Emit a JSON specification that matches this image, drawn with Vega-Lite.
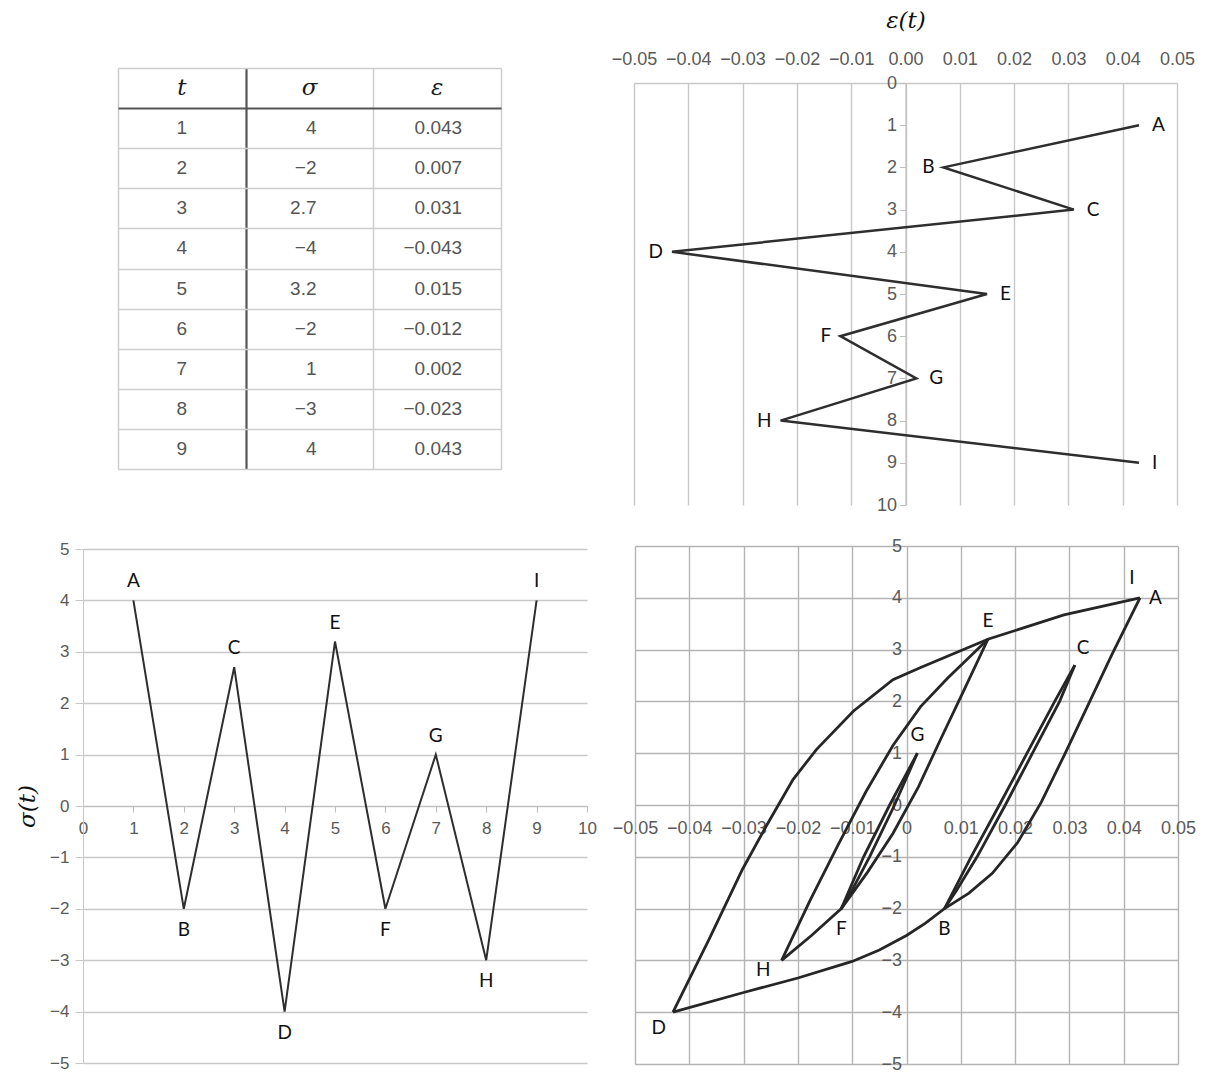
{
  "$schema": "https://vega.github.io/schema/vega-lite/v6.json",
  "background": "white",
  "width": 1206,
  "height": 1073,
  "autosize": {"type": "none"},
  "padding": 0,
  "config": {
    "view": {"stroke": null},
    "axis": {
      "labelFont": "Liberation Sans",
      "labelFontSize": 18,
      "labelColor": "#5a5a5a",
      "titleFont": "DejaVu Serif",
      "titleFontStyle": "italic",
      "titleFontWeight": "normal",
      "titleFontSize": 23,
      "titleColor": "#111111"
    },
    "text": {"font": "Lato", "fontSize": 19, "color": "#111111", "baseline": "middle"}
  },
  "datasets": {
    "pts": [
      {"t": 1, "s": 4, "e": 0.043, "p": "A"},
      {"t": 2, "s": -2, "e": 0.007, "p": "B"},
      {"t": 3, "s": 2.7, "e": 0.031, "p": "C"},
      {"t": 4, "s": -4, "e": -0.043, "p": "D"},
      {"t": 5, "s": 3.2, "e": 0.015, "p": "E"},
      {"t": 6, "s": -2, "e": -0.012, "p": "F"},
      {"t": 7, "s": 1, "e": 0.002, "p": "G"},
      {"t": 8, "s": -3, "e": -0.023, "p": "H"},
      {"t": 9, "s": 4, "e": 0.043, "p": "I"}
    ],
    "loop": [
      {"seg": "AB", "i": 0, "e": 0.043, "s": 4},
      {"seg": "AB", "i": 1, "e": 0.0378, "s": 2.9},
      {"seg": "AB", "i": 2, "e": 0.0333, "s": 1.9},
      {"seg": "AB", "i": 3, "e": 0.029, "s": 0.95},
      {"seg": "AB", "i": 4, "e": 0.0248, "s": 0.05},
      {"seg": "AB", "i": 5, "e": 0.0205, "s": -0.72},
      {"seg": "AB", "i": 6, "e": 0.0158, "s": -1.32},
      {"seg": "AB", "i": 7, "e": 0.0115, "s": -1.7},
      {"seg": "AB", "i": 8, "e": 0.007, "s": -2},

      {"seg": "BC", "i": 0, "e": 0.007, "s": -2},
      {"seg": "BC", "i": 1, "e": 0.0119, "s": -1},
      {"seg": "BC", "i": 2, "e": 0.0171, "s": 0},
      {"seg": "BC", "i": 3, "e": 0.0222, "s": 1},
      {"seg": "BC", "i": 4, "e": 0.0273, "s": 2},
      {"seg": "BC", "i": 5, "e": 0.031, "s": 2.7},

      {"seg": "CD", "i": 0, "e": 0.031, "s": 2.7},
      {"seg": "CD", "i": 1, "e": 0.0282, "s": 2},
      {"seg": "CD", "i": 2, "e": 0.0232, "s": 1},
      {"seg": "CD", "i": 3, "e": 0.0182, "s": 0},
      {"seg": "CD", "i": 4, "e": 0.013, "s": -1},
      {"seg": "CD", "i": 5, "e": 0.0092, "s": -1.65},
      {"seg": "CD", "i": 6, "e": 0.007, "s": -2},
      {"seg": "CD", "i": 7, "e": 0.0035, "s": -2.28},
      {"seg": "CD", "i": 8, "e": 0, "s": -2.52},
      {"seg": "CD", "i": 9, "e": -0.005, "s": -2.8},
      {"seg": "CD", "i": 10, "e": -0.01, "s": -3.02},
      {"seg": "CD", "i": 11, "e": -0.02, "s": -3.34},
      {"seg": "CD", "i": 12, "e": -0.03, "s": -3.62},
      {"seg": "CD", "i": 13, "e": -0.043, "s": -4},

      {"seg": "DE", "i": 0, "e": -0.043, "s": -4},
      {"seg": "DE", "i": 1, "e": -0.0363, "s": -2.58},
      {"seg": "DE", "i": 2, "e": -0.0302, "s": -1.24},
      {"seg": "DE", "i": 3, "e": -0.0258, "s": -0.4},
      {"seg": "DE", "i": 4, "e": -0.0209, "s": 0.49},
      {"seg": "DE", "i": 5, "e": -0.0166, "s": 1.07},
      {"seg": "DE", "i": 6, "e": -0.0098, "s": 1.81},
      {"seg": "DE", "i": 7, "e": -0.0025, "s": 2.42},
      {"seg": "DE", "i": 8, "e": 0.0025, "s": 2.65},
      {"seg": "DE", "i": 9, "e": 0.015, "s": 3.2},

      {"seg": "EF", "i": 0, "e": 0.015, "s": 3.2},
      {"seg": "EF", "i": 1, "e": 0.0105, "s": 2.2},
      {"seg": "EF", "i": 2, "e": 0.0062, "s": 1.25},
      {"seg": "EF", "i": 3, "e": 0.0022, "s": 0.35},
      {"seg": "EF", "i": 4, "e": -0.0025, "s": -0.55},
      {"seg": "EF", "i": 5, "e": -0.0072, "s": -1.3},
      {"seg": "EF", "i": 6, "e": -0.012, "s": -2},

      {"seg": "FG", "i": 0, "e": -0.012, "s": -2},
      {"seg": "FG", "i": 1, "e": -0.0079, "s": -1},
      {"seg": "FG", "i": 2, "e": -0.0031, "s": 0},
      {"seg": "FG", "i": 3, "e": 0.002, "s": 1},

      {"seg": "GH", "i": 0, "e": 0.002, "s": 1},
      {"seg": "GH", "i": 1, "e": -0.0022, "s": 0},
      {"seg": "GH", "i": 2, "e": -0.0068, "s": -1},
      {"seg": "GH", "i": 3, "e": -0.0098, "s": -1.6},
      {"seg": "GH", "i": 4, "e": -0.012, "s": -2},
      {"seg": "GH", "i": 5, "e": -0.0175, "s": -2.52},
      {"seg": "GH", "i": 6, "e": -0.023, "s": -3},

      {"seg": "HI", "i": 0, "e": -0.023, "s": -3},
      {"seg": "HI", "i": 1, "e": -0.0178, "s": -1.85},
      {"seg": "HI", "i": 2, "e": -0.0125, "s": -0.75},
      {"seg": "HI", "i": 3, "e": -0.0075, "s": 0.25},
      {"seg": "HI", "i": 4, "e": -0.0025, "s": 1.15},
      {"seg": "HI", "i": 5, "e": 0.0026, "s": 1.9},
      {"seg": "HI", "i": 6, "e": 0.0076, "s": 2.45},
      {"seg": "HI", "i": 7, "e": 0.015, "s": 3.2},
      {"seg": "HI", "i": 8, "e": 0.029, "s": 3.67},
      {"seg": "HI", "i": 9, "e": 0.043, "s": 4}
    ]
  },
  "resolve": {
    "scale": {"x": "independent", "y": "independent"},
    "axis": {"x": "independent", "y": "independent"}
  },
  "layer": [
    {
      "data": {"name": "pts"},
      "encoding": {
        "y": {
          "field": "t",
          "type": "ordinal",
          "scale": {"type": "band", "domain": [0, 1, 2, 3, 4, 5, 6, 7, 8, 9], "range": [68, 469], "paddingInner": 0, "paddingOuter": 0},
          "axis": {
            "orient": "left", "offset": -118,
            "title": null, "labels": false, "ticks": false, "domain": false,
            "grid": true, "tickBand": "extent",
            "gridColor": {"condition": {"test": "datum.value === 0", "value": "#555555"}, "value": "#cdcdcd"},
            "gridWidth": {"condition": {"test": "datum.value === 0", "value": 2.2}, "value": 1.5}
          }
        }
      },
      "layer": [
        {
          "mark": {"type": "text", "font": "Liberation Sans", "fontSize": 19, "color": "#555555"},
          "encoding": {
            "x": {
              "datum": "t",
              "type": "nominal",
              "scale": {"type": "band", "domain": ["t", "σ", "ε"], "range": [118, 501], "paddingInner": 0, "paddingOuter": 0},
              "axis": {
                "orient": "top", "offset": -68,
                "title": null, "labels": false, "ticks": false, "domain": false,
                "grid": true, "tickBand": "extent",
                "gridColor": {"condition": {"test": "datum.value === 't'", "value": "#555555"}, "value": "#cdcdcd"},
                "gridWidth": {"condition": {"test": "datum.value === 't'", "value": 2.2}, "value": 1.5}
              }
            },
            "text": {"field": "t"}
          }
        },
        {
          "mark": {"type": "text", "font": "Liberation Sans", "fontSize": 19, "color": "#555555", "align": "right", "dx": 7},
          "encoding": {
            "x": {"datum": "σ", "type": "nominal", "scale": {"type": "band", "domain": ["t", "σ", "ε"], "range": [118, 501], "paddingInner": 0, "paddingOuter": 0}},
            "text": {"field": "s", "format": "~g"}
          }
        },
        {
          "mark": {"type": "text", "font": "Liberation Sans", "fontSize": 19, "color": "#555555", "align": "right", "dx": 25},
          "encoding": {
            "x": {"datum": "ε", "type": "nominal", "scale": {"type": "band", "domain": ["t", "σ", "ε"], "range": [118, 501], "paddingInner": 0, "paddingOuter": 0}},
            "text": {"field": "e", "format": ".3f"}
          }
        },
        {
          "data": {"values": [{"h": "t"}, {"h": "σ"}, {"h": "ε"}]},
          "mark": {"type": "text", "font": "DejaVu Serif", "fontStyle": "italic", "fontSize": 23, "color": "#1a1a1a"},
          "encoding": {
            "x": {"field": "h", "type": "nominal", "scale": {"type": "band", "domain": ["t", "σ", "ε"], "range": [118, 501], "paddingInner": 0, "paddingOuter": 0}},
            "y": {"datum": 0, "type": "ordinal", "scale": {"type": "band", "domain": [0, 1, 2, 3, 4, 5, 6, 7, 8, 9], "range": [68, 469], "paddingInner": 0, "paddingOuter": 0}},
            "text": {"field": "h"}
          }
        }
      ]
    },
    {
      "data": {"name": "pts"},
      "encoding": {
        "x": {
          "field": "e",
          "type": "quantitative",
          "scale": {"domain": [-0.05, 0.05], "range": [634, 1177], "nice": false, "zero": false},
          "axis": {
            "orient": "top", "offset": -83,
            "values": [-0.05, -0.04, -0.03, -0.02, -0.01, 0, 0.01, 0.02, 0.03, 0.04, 0.05],
            "format": ".2f", "grid": true, "gridColor": "#c8c8c8", "gridWidth": 1.4,
            "domainColor": "#c8c8c8", "domainWidth": 1.4, "ticks": false, "tickSize": 0, "labelPadding": 15,
            "labelFlush": false, "labelOverlap": false,
            "title": "ε(t)", "titlePadding": 18
          }
        },
        "y": {
          "field": "t",
          "type": "quantitative",
          "scale": {"domain": [0, 10], "range": [83, 505], "nice": false, "zero": false},
          "axis": {
            "orient": "left", "offset": -905.5,
            "values": [0, 1, 2, 3, 4, 5, 6, 7, 8, 9, 10],
            "grid": false, "domainColor": "#bdbdbd", "tickColor": "#bdbdbd", "tickSize": 6,
            "labelPadding": 3, "labelOverlap": false, "title": null
          }
        }
      },
      "layer": [
        {"mark": {"type": "line", "color": "#2e2e2e", "strokeWidth": 2.5}, "encoding": {"order": {"field": "t"}}},
        {
          "transform": [{"filter": "datum.t % 2 === 1"}],
          "mark": {"type": "text", "align": "left", "dx": 13},
          "encoding": {"text": {"field": "p"}}
        },
        {
          "transform": [{"filter": "datum.t % 2 === 0"}],
          "mark": {"type": "text", "align": "right", "dx": -9},
          "encoding": {"text": {"field": "p"}}
        }
      ]
    },
    {
      "data": {"name": "pts"},
      "encoding": {
        "x": {
          "field": "t",
          "type": "quantitative",
          "scale": {"domain": [0, 10], "range": [83, 587], "nice": false, "zero": false},
          "axis": {
            "orient": "bottom", "offset": -267,
            "values": [0, 1, 2, 3, 4, 5, 6, 7, 8, 9, 10],
            "format": "d", "grid": false, "domainColor": "#bdbdbd", "tickColor": "#bdbdbd",
            "tickSize": 6, "labelPadding": 8, "labelFontSize": 17, "labelFlush": false, "labelOverlap": false, "title": null
          }
        },
        "y": {
          "field": "s",
          "type": "quantitative",
          "scale": {"domain": [-5, 5], "range": [1063, 549], "nice": false, "zero": false},
          "axis": {
            "orient": "left", "offset": -83,
            "values": [-5, -4, -3, -2, -1, 0, 1, 2, 3, 4, 5],
            "grid": true, "gridColor": "#c8c8c8", "gridWidth": 1.4,
            "domainColor": "#c8c8c8", "tickColor": "#c8c8c8", "tickSize": 8,
            "labelPadding": 6, "labelFontSize": 17, "labelOverlap": false, "title": "σ(t)", "titlePadding": 10
          }
        }
      },
      "layer": [
        {"mark": {"type": "line", "color": "#2e2e2e", "strokeWidth": 2}, "encoding": {"order": {"field": "t"}}},
        {
          "transform": [{"filter": "datum.t % 2 === 1"}],
          "mark": {"type": "text", "dy": -19},
          "encoding": {"text": {"field": "p"}}
        },
        {
          "transform": [{"filter": "datum.t % 2 === 0"}],
          "mark": {"type": "text", "dy": 21},
          "encoding": {"text": {"field": "p"}}
        }
      ]
    },
    {
      "encoding": {
        "x": {
          "field": "e",
          "type": "quantitative",
          "scale": {"domain": [-0.05, 0.05], "range": [635, 1178], "nice": false, "zero": false},
          "axis": {
            "orient": "top", "offset": -805,
            "values": [-0.05, -0.04, -0.03, -0.02, -0.01, 0, 0.01, 0.02, 0.03, 0.04, 0.05],
            "format": "~g", "grid": true, "gridColor": "#b4b4b4", "gridWidth": 1.4,
            "domain": false, "ticks": false, "tickSize": 0,
            "labelBaseline": "middle", "labelPadding": -23,
            "labelFlush": false, "labelOverlap": false, "title": null
          }
        },
        "y": {
          "field": "s",
          "type": "quantitative",
          "scale": {"domain": [-5, 5], "range": [1064, 546], "nice": false, "zero": false},
          "axis": {
            "orient": "left", "offset": -906.5,
            "values": [-5, -4, -3, -2, -1, 0, 1, 2, 3, 4, 5],
            "grid": true, "gridColor": "#b4b4b4", "gridWidth": 1.4,
            "domain": false, "ticks": false, "tickSize": 0, "labelPadding": 5,
            "labelOverlap": false, "title": null
          }
        }
      },
      "layer": [
        {
          "data": {"name": "loop"},
          "mark": {"type": "line", "color": "#262626", "strokeWidth": 2.8},
          "encoding": {"detail": {"field": "seg"}, "order": {"field": "i"}}
        },
        {
          "data": {"name": "pts"},
          "transform": [{"filter": {"field": "p", "oneOf": ["A"]}}],
          "mark": {"type": "text", "align": "left", "dx": 9},
          "encoding": {"text": {"field": "p"}}
        },
        {
          "data": {"name": "pts"},
          "transform": [{"filter": {"field": "p", "oneOf": ["B", "F"]}}],
          "mark": {"type": "text", "dy": 20},
          "encoding": {"text": {"field": "p"}}
        },
        {
          "data": {"name": "pts"},
          "transform": [{"filter": {"field": "p", "oneOf": ["C"]}}],
          "mark": {"type": "text", "align": "left", "dx": 2, "dy": -17},
          "encoding": {"text": {"field": "p"}}
        },
        {
          "data": {"name": "pts"},
          "transform": [{"filter": {"field": "p", "oneOf": ["D"]}}],
          "mark": {"type": "text", "align": "right", "dx": -7, "dy": 16},
          "encoding": {"text": {"field": "p"}}
        },
        {
          "data": {"name": "pts"},
          "transform": [{"filter": {"field": "p", "oneOf": ["H"]}}],
          "mark": {"type": "text", "align": "right", "dx": -11, "dy": 10},
          "encoding": {"text": {"field": "p"}}
        },
        {
          "data": {"name": "pts"},
          "transform": [{"filter": {"field": "p", "oneOf": ["E", "G"]}}],
          "mark": {"type": "text", "dy": -18},
          "encoding": {"text": {"field": "p"}}
        },
        {
          "data": {"name": "pts"},
          "transform": [{"filter": {"field": "p", "oneOf": ["I"]}}],
          "mark": {"type": "text", "dx": -8, "dy": -20},
          "encoding": {"text": {"field": "p"}}
        }
      ]
    }
  ]
}
